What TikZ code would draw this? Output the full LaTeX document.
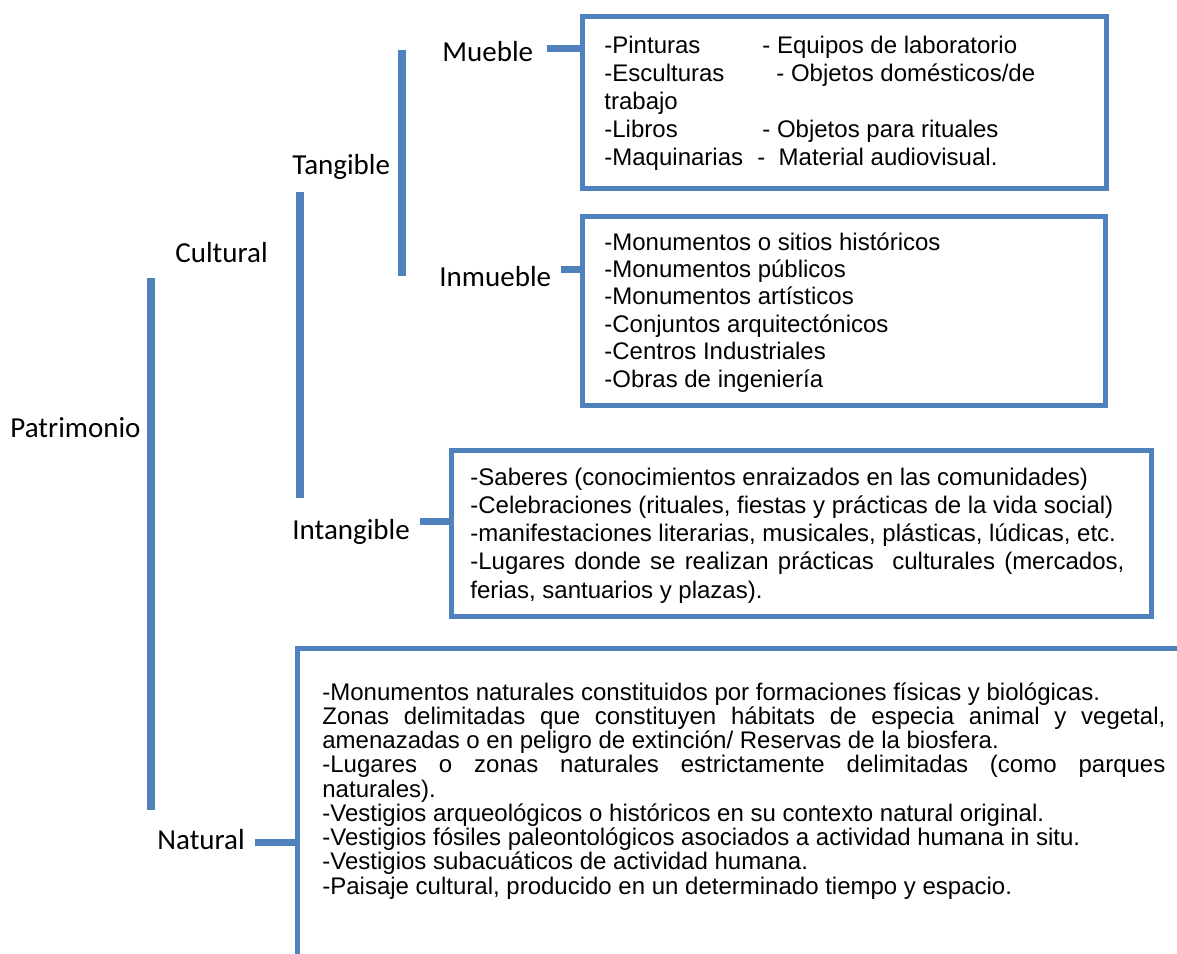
\documentclass[tikz,border=0pt]{standalone}
\usepackage{fontspec}
\setmainfont{Liberation Sans}
\newfontfamily\calib{Carlito}
\definecolor{barblue}{HTML}{4F81BD}
\tikzset{
  bar/.style={draw=barblue, line width=3.75pt},
  stub/.style={draw=barblue, line width=3.5pt},
  boxline/.style={draw=barblue, line width=2.5pt, fill=white, inner sep=0pt, anchor=north west},
  lab/.style={font=\calib\fontsize{14.5}{17}\selectfont, anchor=base west, inner sep=0pt},
  txt/.style={anchor=base west, inner sep=0pt},
}
\begin{document}
\begin{tikzpicture}[x=0.5pt,y=-0.5pt]
\useasboundingbox[fill=white] (0,0) rectangle (1177,953);

% labels
\node[lab] (patr) at (10,437) {Patrimonio};
\node[lab] (cult) at (175,262) {Cultural};
\node[lab] (tang) at (292,174) {Tangible};
\node[lab] (mueb) at (442,61) {Mueble};
\node[lab] (inmu) at (439,286) {Inmueble};
\node[lab] (inta) at (292,539) {Intangible};
\node[lab] (natu) at (157,849) {Natural};

% bars
\coordinate (pa1) at (151,278); \coordinate (pa2) at (151,810);
\coordinate (cu1) at (300,192); \coordinate (cu2) at (300,498);
\coordinate (ta1) at (402,50);  \coordinate (ta2) at (402,276);
\draw[bar] (pa1) -- (pa2);
\draw[bar] (cu1) -- (cu2);
\draw[bar] (ta1) -- (ta2);

% boxes
\node[boxline, minimum width=262pt, minimum height=86pt] (mbox) at (580,14) {};
\node[boxline, minimum width=261.5pt, minimum height=94.5pt] (ibox) at (580,214) {};
\node[boxline, minimum width=350pt, minimum height=83pt] (tbox) at (449,448) {};
\coordinate (nboxtl) at (297,648);
\draw[draw=barblue, line width=2.5pt] (1190,648) -- (nboxtl) -- (297,960);

% stubs
\coordinate (ms) at (547,48);
\coordinate (is) at (561,269);
\coordinate (ts) at (420,521);
\coordinate (ns) at (255,842);
\draw[stub] (ms) -- (ms -| mbox.west);
\draw[stub] (is) -- (is -| ibox.west);
\draw[stub] (ts) -- (ts -| tbox.west);
\draw[stub] (ns) -- (ns -| nboxtl);

% texts
\node[txt, font=\fontsize{12}{13.9}\selectfont] (mtxt) at (604,54) {\parbox[t]{255pt}{%
\makebox[79pt][l]{-Pinturas}- Equipos de laboratorio\\
\makebox[86pt][l]{-Esculturas}- Objetos domésticos/de\\
trabajo\\
\makebox[79pt][l]{-Libros}- Objetos para rituales\\
\makebox[76.5pt][l]{-Maquinarias}-\ \ Material audiovisual.}};

\node[txt, font=\fontsize{12}{13.7}\selectfont] (itxt) at (604,250) {\parbox[t]{250pt}{%
-Monumentos o sitios históricos\\
-Monumentos públicos\\
-Monumentos artísticos\\
-Conjuntos arquitectónicos\\
-Centros Industriales\\
-Obras de ingeniería}};

\node[txt, font=\fontsize{12}{14.15}\selectfont] (ttxt) at (470,485) {\parbox[t]{340pt}{%
-Saberes (conocimientos enraizados en las comunidades)\\
-Celebraciones (rituales, fiestas y prácticas de la vida social)\\
-manifestaciones literarias, musicales, plásticas, lúdicas, etc.\\
\makebox[327pt][s]{-Lugares donde se realizan prácticas\ \ culturales (mercados,}\\
ferias, santuarios y plazas).}};

\node[txt, font=\fontsize{12}{12.125}\selectfont] (ntxt) at (322,700) {\parbox[t]{430pt}{%
-Monumentos naturales constituidos por formaciones físicas y biológicas.\\
\makebox[421.5pt][s]{Zonas delimitadas que constituyen hábitats de especia animal y vegetal,}\\
amenazadas o en peligro de extinción/ Reservas de la biosfera.\\
\makebox[421.5pt][s]{-Lugares o zonas naturales estrictamente delimitadas (como parques}\\
naturales).\\
-Vestigios arqueológicos o históricos en su contexto natural original.\\
-Vestigios fósiles paleontológicos asociados a actividad humana in situ.\\
-Vestigios subacuáticos de actividad humana.\\
-Paisaje cultural, producido en un determinado tiempo y espacio.}};
\end{tikzpicture}
\end{document}
